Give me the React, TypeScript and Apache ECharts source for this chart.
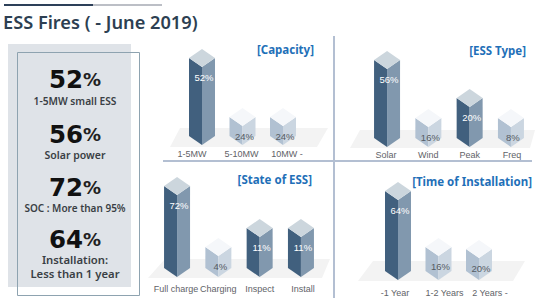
import React, { useEffect, useRef } from "react";
import * as echarts from "echarts";

const capacityCategories = ["1-5MW", "5-10MW", "10MW -"];
const capacityValues = [52, 24, 24];
const capacityDrawn = [78, 19, 19];
const capacityTone = [1, 0, 0];

const typeCategories = ["Solar", "Wind", "Peak", "Freq"];
const typeValues = [56, 16, 20, 8];
const typeDrawn = [78, 20, 40, 20];
const typeTone = [1, 0, 1, 0];

const stateCategories = ["Full charge", "Charging", "Inspect", "Install"];
const stateValues = [72, 4, 11, 11];
const stateDrawn = [82, 21, 40, 40];
const stateTone = [1, 0, 1, 1];

const timeCategories = ["-1 Year", "1-2 Years", "2 Years -"];
const timeValues = [64, 16, 20];
const timeDrawn = [80, 24, 22];
const timeTone = [1, 0, 0];

const summaryValues = ["52", "56", "72", "64"];
const summaryCaptions = ["1-5MW small ESS", "Solar power", "SOC : More than 95%", "Installation:\nLess than 1 year"];

const FONT = "'Noto Sans', sans-serif";
const NARROW = "'Liberation Sans', sans-serif";
const HEAVY = "'DejaVu Sans', sans-serif";

const panels = [
  { title: "[Capacity]", titleX: 314, titleY: 49, cats: capacityCategories, vals: capacityValues, drawn: capacityDrawn, tone: capacityTone,
    left: 181.75, width: 121.5, base: 145, margin: 4, shift: [-10, -1, 4],
    floor: [[180, 128], [328, 128], [317, 147], [170, 147]] },
  { title: "[ESS Type]", titleX: 526, titleY: 50, cats: typeCategories, vals: typeValues, drawn: typeDrawn, tone: typeTone,
    left: 366.4, width: 165.2, base: 147, margin: 3, shift: [-1, 0, 0, 1],
    floor: [[360, 130], [535, 130], [530, 148], [350, 148]] },
  { title: "[State of ESS]", titleX: 312, titleY: 179, cats: stateCategories, vals: stateValues, drawn: stateDrawn, tone: stateTone,
    left: 156.4, width: 165.2, base: 277, margin: 7, shift: [-1, 0, 0, 2],
    floor: [[165, 259], [330, 259], [322, 278], [148, 278]] },
  { title: "[Time of Installation]", titleX: 532, titleY: 181, cats: timeCategories, vals: timeValues, drawn: timeDrawn, tone: timeTone,
    left: 377.75, width: 121.5, base: 280, margin: 8, shift: [-3, 6, 11],
    floor: [[373, 261], [525, 261], [513, 281], [358, 281]] },
];

function poly(points: number[][], fill: string) {
  return { type: "polygon", shape: { points }, style: { fill }, silent: true };
}

function makeRenderItem(panelIndex: number) {
  const p = panels[panelIndex];
  return (params: any, api: any) => {
    const i = api.value(0);
    const [x, y] = api.coord([i, api.value(1)]);
    const [, b] = api.coord([i, 0]);
    const w = 13;
    const d = 9;
    const dark = p.tone[i] === 1;
    const left = dark ? "#41607e" : "#b1c1d2";
    const right = dark ? "#8198ae" : "#cbd6e1";
    const top = dark ? "#ccd6dd" : "#f5f7fa";
    return {
      type: "group",
      children: [
        poly([[x - w, y - d], [x, y], [x, b], [x - w, b - d]], left),
        poly([[x, y], [x + w, y - d], [x + w, b - d], [x, b]], right),
        poly([[x - w, y - d], [x, y - 2 * d], [x + w, y - d], [x, y]], top),
        {
          type: "text",
          x: x + 2,
          y: y + 10,
          silent: true,
          style: {
            text: p.vals[i] + "%",
            fill: dark ? "#ffffff" : "#555b63",
            fontSize: 9.5,
            fontFamily: NARROW,
            align: "center",
            verticalAlign: "middle",
          },
        },
      ],
    };
  };
}

function buildOption() {
  const grid = panels.map((p) => ({ left: p.left, width: p.width, top: p.base - 100, height: 100 }));
  const xAxis = panels.map((p, g) => {
    const rich: any = {};
    p.shift.forEach((s, k) => {
      rich["r" + k] = {
        fontSize: 9,
        fontFamily: NARROW,
        color: "#5f6368",
        padding: s >= 0 ? [0, 0, 0, 2 * s] : [0, -2 * s, 0, 0],
      };
    });
    return {
      type: "category" as const,
      gridIndex: g,
      data: p.cats,
      axisLine: { show: false },
      axisTick: { show: false },
      axisLabel: {
        margin: p.margin,
        interval: 0,
        hideOverlap: false,
        formatter: (v: string) => `{r${p.cats.indexOf(v)}|${v}}`,
        rich,
      },
    };
  });
  const yAxis = panels.map((_, g) => ({
    type: "value" as const,
    gridIndex: g,
    min: 0,
    max: 100,
    show: false,
    splitLine: { show: false },
  }));
  const series = panels.map((p, g) => ({
    type: "custom" as const,
    xAxisIndex: g,
    yAxisIndex: g,
    z: 5,
    clip: false,
    renderItem: makeRenderItem(g),
    encode: { x: 0, y: 1 },
    data: p.drawn.map((h, i) => [i, h]),
  }));

  const summaryY = [79, 134, 187, 239];
  const captionY = [101, 155, 208, 266.5];
  const captionSize = [10.2, 10.5, 10, 11.3];
  const graphic: any[] = [
    { type: "rect", z: 0, shape: { x: 4, y: 4, width: 89, height: 2 }, style: { fill: "#2d4059" } },
    { type: "rect", z: 0, shape: { x: 93, y: 4, width: 69, height: 2 }, style: { fill: "#bcbfc6" } },
    { type: "text", z: 1, x: 3, y: 22, style: { text: "ESS Fires ( - June 2019)", fontFamily: FONT, fontWeight: 600, fontSize: 18.2, fill: "#2d3f52", verticalAlign: "middle" } },
    { type: "rect", z: 0, shape: { x: 8, y: 44, width: 123, height: 243 }, style: { fill: "#dfe3e8" } },
    { type: "rect", z: 1, shape: { x: 17.5, y: 52.5, width: 122, height: 243 }, style: { fill: "none", stroke: "#8ea3b0", lineWidth: 1 } },
    { type: "rect", z: 1, shape: { x: 163, y: 160, width: 369, height: 2 }, style: { fill: "#b3bfd2" } },
    { type: "rect", z: 1, shape: { x: 333, y: 36, width: 2, height: 262 }, style: { fill: "#b3bfd2" } },
  ];
  summaryValues.forEach((v, i) => {
    graphic.push({
      type: "text", z: 2, x: 75, y: summaryY[i],
      style: {
        text: `{a|${v}}{b|%}`,
        align: "center", verticalAlign: "middle",
        rich: {
          a: { fontFamily: HEAVY, fontWeight: 700, fontSize: 24.5, lineHeight: 20, fill: "#111111" },
          b: { fontFamily: HEAVY, fontWeight: 700, fontSize: 18, lineHeight: 20, fill: "#222222" },
        },
      },
    });
    graphic.push({
      type: "text", z: 2, x: 75, y: captionY[i],
      style: {
        text: summaryCaptions[i],
        fontFamily: FONT, fontWeight: 600, fontSize: captionSize[i], fill: "#3a3f45",
        align: "center", verticalAlign: "middle", lineHeight: 13.5,
      },
    });
  });
  panels.forEach((p) => {
    graphic.push({ type: "polygon", z: 0, shape: { points: p.floor }, style: { fill: "#f3f3f3" } });
    graphic.push({
      type: "text", z: 2, x: p.titleX, y: p.titleY,
      style: { text: p.title, fontFamily: FONT, fontWeight: 700, fontSize: 11.5, fill: "#1f70b8", align: "right", verticalAlign: "middle" },
    });
  });

  return { animation: false, backgroundColor: "#ffffff", grid, xAxis, yAxis, series, graphic };
}

export default function App() {
  const ref = useRef<HTMLDivElement>(null);
  useEffect(() => {
    const chart = echarts.init(ref.current!, undefined, { renderer: "svg" });
    chart.setOption(buildOption() as any);
    return () => chart.dispose();
  }, []);
  return <div ref={ref} style={{ position: "fixed", left: 0, top: 0, width: 550, height: 304 }} />;
}
